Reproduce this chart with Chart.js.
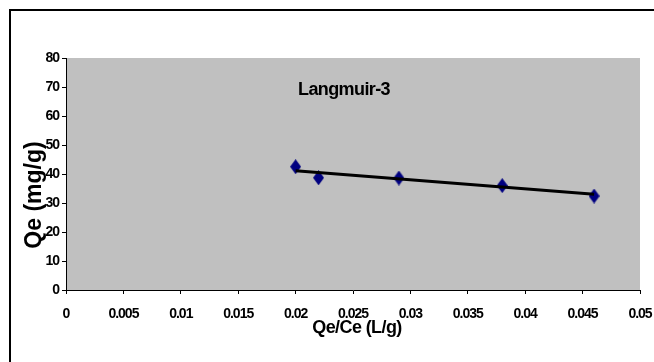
<!DOCTYPE html>
<html>
<head>
<meta charset="utf-8">
<script src="https://cdn.jsdelivr.net/npm/chart.js@4/dist/chart.umd.min.js"></script>
<style>
  html, body { margin: 0; padding: 0; background: #fff; }
  #c { display: block; }
</style>
</head>
<body>
<canvas id="c" width="654" height="362"></canvas>
<script>
// ---- data ----
const xValues = [0.020, 0.022, 0.029, 0.038, 0.046];   // Qe/Ce (L/g)
const qeValues = [42.5, 38.7, 38.6, 36.0, 32.4];       // Qe (mg/g)
const trendX = [0.020, 0.046];                         // linear trendline ends
const trendY = [41.1, 33.0];
const xTickLabels = ['0', '0.005', '0.01', '0.015', '0.02', '0.025', '0.03', '0.035', '0.04', '0.045', '0.05'];
const yTickLabels = ['0', '10', '20', '30', '40', '50', '60', '70', '80'];
const chartTitle = 'Langmuir-3';
const xTitle = 'Qe/Ce (L/g)';
const yTitle = 'Qe (mg/g)';

const FONT = "'Liberation Sans', Arial, sans-serif";

// elongated diamond marker
const marker = document.createElement('canvas');
marker.width = 11; marker.height = 15;
(function () {
  const m = marker.getContext('2d');
  m.fillStyle = '#000080';
  m.beginPath();
  m.moveTo(5.5, 0); m.lineTo(11, 7.5); m.lineTo(5.5, 15); m.lineTo(0, 7.5);
  m.closePath(); m.fill();
})();

const scatterData = xValues.map((x, i) => ({ x: x, y: qeValues[i] }));
const trendData = trendX.map((x, i) => ({ x: x, y: trendY[i] }));

const decor = {
  id: 'decor',
  beforeDraw(chart) {
    const ctx = chart.ctx, a = chart.chartArea;
    ctx.save();
    ctx.fillStyle = '#ffffff';
    ctx.fillRect(0, 0, chart.width, chart.height);
    ctx.strokeStyle = '#000';
    ctx.lineWidth = 2;
    ctx.strokeRect(10, 10, chart.width + 20, chart.height + 20);
    ctx.fillStyle = '#c0c0c0';
    ctx.fillRect(a.left, a.top, a.right - a.left, a.bottom - a.top);
    ctx.restore();
    ctx.letterSpacing = '-1px';
  },
  afterDraw(chart) {
    const ctx = chart.ctx;
    ctx.save();
    ctx.fillStyle = '#000';
    ctx.letterSpacing = '-0.6px';
    ctx.font = 'bold 18px ' + FONT;
    ctx.textAlign = 'center';
    ctx.textBaseline = 'alphabetic';
    ctx.fillText(chartTitle, 344, 95);
    ctx.fillText(xTitle, 357, 333);
    ctx.letterSpacing = '0px';
    ctx.font = 'bold 23px ' + FONT;
    ctx.translate(41, 195);
    ctx.rotate(-Math.PI / 2);
    ctx.fillText(yTitle, 0, 0);
    ctx.restore();
  }
};

new Chart(document.getElementById('c'), {
  type: 'scatter',
  data: {
    datasets: [
      {
        label: 'trend',
        data: trendData,
        showLine: true,
        borderColor: '#000',
        borderWidth: 3,
        pointRadius: 0,
        pointHoverRadius: 0,
        fill: false,
        order: 0
      },
      {
        label: 'Langmuir-3',
        data: scatterData,
        pointStyle: marker,
        pointRadius: 6,
        backgroundColor: '#000080',
        borderColor: '#000080',
        showLine: false,
        order: 1
      }
    ]
  },
  options: {
    responsive: false,
    animation: false,
    devicePixelRatio: 1,
    layout: { padding: { left: 0, top: 58, right: 0, bottom: 0 } },
    plugins: { legend: { display: false }, tooltip: { enabled: false } },
    scales: {
      x: {
        type: 'linear',
        min: 0, max: 0.05,
        afterFit(s) { s.height = 72; s.paddingRight = 14; },
        afterBuildTicks(s) { s.ticks = xTickLabels.map(t => ({ value: parseFloat(t) })); },
        ticks: {
          autoSkip: false, maxRotation: 0, minRotation: 0,
          color: '#000', padding: 12,
          font: { family: FONT, size: 14, weight: 'bold' },
          callback: (v, i) => xTickLabels[i]
        },
        grid: { display: true, drawOnChartArea: false, drawTicks: true, tickLength: 4, color: '#000', lineWidth: 1 },
        border: { display: true, color: '#000', width: 1 }
      },
      y: {
        type: 'linear',
        min: 0, max: 80,
        afterFit(s) { s.width = 66; },
        afterBuildTicks(s) { s.ticks = yTickLabels.map(t => ({ value: parseFloat(t) })); },
        ticks: {
          autoSkip: false,
          color: '#000', padding: 3,
          font: { family: FONT, size: 14, weight: 'bold' },
          callback: (v, i) => yTickLabels[i]
        },
        grid: { display: true, drawOnChartArea: false, drawTicks: true, tickLength: 4, color: '#000', lineWidth: 1 },
        border: { display: true, color: '#000', width: 1 }
      }
    }
  },
  plugins: [decor]
});
</script>
</body>
</html>
